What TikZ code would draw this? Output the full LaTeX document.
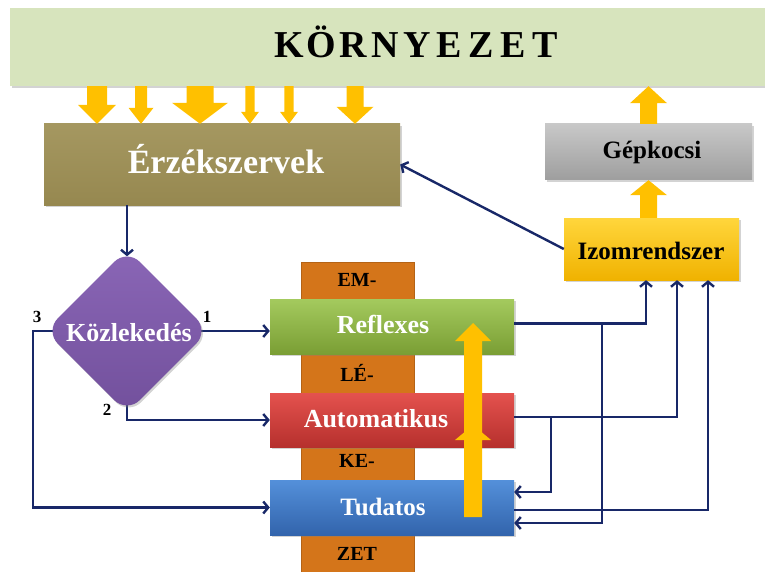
\documentclass[tikz,border=0pt]{standalone}
\usepackage{fontspec}
\setmainfont{Liberation Serif}
\usetikzlibrary{shapes.geometric,arrows.meta,shadows,calc,backgrounds}

\definecolor{envgreen}{RGB}{215,228,189}
\definecolor{olive}{RGB}{160,146,88}
\definecolor{olivedark}{RGB}{150,136,80}
\definecolor{violettop}{RGB}{138,102,182}
\definecolor{violetbot}{RGB}{114,80,156}
\definecolor{stripc}{RGB}{212,117,26}
\definecolor{greentop}{RGB}{164,202,94}
\definecolor{greenbot}{RGB}{122,158,52}
\definecolor{redtop}{RGB}{228,82,78}
\definecolor{redbot}{RGB}{182,48,45}
\definecolor{bluetop}{RGB}{84,144,218}
\definecolor{bluebot}{RGB}{50,100,172}
\definecolor{goldtop}{RGB}{255,214,60}
\definecolor{goldbot}{RGB}{240,178,0}
\definecolor{greytop}{RGB}{200,200,200}
\definecolor{greybot}{RGB}{158,158,158}
\definecolor{amber}{RGB}{255,192,0}
\definecolor{navy}{RGB}{24,40,104}

% fixed-width cell for the spaced-out title letters
\newcommand{\ltr}[1]{\makebox[32pt]{#1}}

% vertical block arrow: #1 start, #2 tip, #3 shaft half width,
% #4 head half width, #5 head length
\newcommand{\fatarrow}[5]{%
  \fill[amber] let \p1=#1, \p2=#2, \p3=($#2!#5!#1$) in
    (\x1-#3,\y1) -- (\x1-#3,\y3) -- (\x1-#4,\y3) -- (\x2,\y2)
    -- (\x1+#4,\y3) -- (\x1+#3,\y3) -- (\x1+#3,\y1) -- cycle;}

\tikzset{
  boxshadow/.style={drop shadow={shadow xshift=1.5pt,shadow yshift=-2pt,opacity=.35}},
  plainbox/.style={rectangle,inner sep=0pt,boxshadow},
  label/.style={inner sep=0pt,anchor=base,font=\bfseries\fontsize{26}{28}\selectfont},
  link/.style={draw=navy,line width=2.4pt,-{Straight Barb[length=5pt,width=12pt]}},
  num/.style={inner sep=0pt,anchor=base,font=\bfseries\fontsize{17}{19}\selectfont}
}

\begin{document}
\begin{tikzpicture}[x=1pt,y=-1pt]
\useasboundingbox (0,0) rectangle (765,572);

% environment band
\node[plainbox,fill=envgreen,minimum width=760pt,minimum height=78pt] (env) at (390,47) {};
\node[label,font=\bfseries\fontsize{38}{40}\selectfont] (title) at (417,58)
  {\ltr{K}\ltr{Ö}\ltr{R}\ltr{N}\ltr{Y}\ltr{E}\ltr{Z}\ltr{E}\ltr{T}};

% sense organs
\node[plainbox,top color=olive!95!white,bottom color=olivedark,minimum width=356pt,minimum height=81pt] (erz) at (222,164.5) {};
\node[label,text=white,font=\bfseries\fontsize{34}{36}\selectfont] (erzT) at (226,174) {Érzékszervek};

% decision diamond
\node[diamond,aspect=1,minimum width=164pt,minimum height=164pt,inner sep=0pt,
      rounded corners=18pt,top color=violettop,bottom color=violetbot,boxshadow] (d) at (127,331) {};
\node[label,text=white] (dT) at (129,341) {Közlekedés};
\node[num] (n3) at (37,322) {3};
\node[num] (n1) at (207,322) {1};
\node[num] (n2) at (107,415) {2};

% the "EM-LÉ-KE-ZET" column
\node[rectangle,inner sep=0pt,fill=stripc,draw=stripc!85!black,line width=.6pt,
      minimum width=113pt,minimum height=318pt] (strip) at (357.5,421) {};
\node[label,font=\bfseries\fontsize{20}{22}\selectfont] (s1) at (357,286) {EM-};
\node[label,font=\bfseries\fontsize{20}{22}\selectfont] (s2) at (357,381) {LÉ-};
\node[label,font=\bfseries\fontsize{20}{22}\selectfont] (s3) at (357,467) {KE-};
\node[label,font=\bfseries\fontsize{20}{22}\selectfont] (s4) at (357,560) {ZET};

% the three control levels
\node[plainbox,top color=greentop,bottom color=greenbot,minimum width=244pt,minimum height=55pt] (refl) at (392,326.5) {};
\node[plainbox,top color=redtop,bottom color=redbot,minimum width=244pt,minimum height=54pt] (auto) at (392,420) {};
\node[plainbox,top color=bluetop,bottom color=bluebot,minimum width=244pt,minimum height=55pt] (tud) at (392,507.5) {};
\node[label,text=white] (reflT) at (383,333) {Reflexes};
\node[label,text=white] (autoT) at (376,427) {Automatikus};
\node[label,text=white,font=\bfseries\fontsize{25}{27}\selectfont] (tudT) at (383,515) {Tudatos};

% muscles and car
\node[plainbox,top color=goldtop,bottom color=goldbot,minimum width=175pt,minimum height=62pt] (izom) at (651.5,249) {};
\node[label,font=\bfseries\fontsize{25}{27}\selectfont] (izomT) at (651,259) {Izomrendszer};
\node[plainbox,top color=greytop,bottom color=greybot,minimum width=207pt,minimum height=56pt] (gep) at (648.5,152) {};
\node[label,font=\bfseries\fontsize{25}{27}\selectfont] (gepT) at (652,159) {Gépkocsi};

% stimuli from the environment
\fatarrow{(97,0 |- env.south)}{(97,0 |- erz.north)}{10pt}{19pt}{19pt}
\fatarrow{(141,0 |- env.south)}{(141,0 |- erz.north)}{6pt}{12.5pt}{16pt}
\fatarrow{(200,0 |- env.south)}{(200,0 |- erz.north)}{13.5pt}{28pt}{21pt}
\fatarrow{(250,0 |- env.south)}{(250,0 |- erz.north)}{4.7pt}{9pt}{12pt}
\fatarrow{(289,0 |- env.south)}{(289,0 |- erz.north)}{4.7pt}{9pt}{12pt}
\fatarrow{(355,0 |- env.south)}{(355,0 |- erz.north)}{8.5pt}{18.5pt}{17pt}

% action on the car and on the environment
\fatarrow{(gep.north)}{(gep.north |- env.south)}{8.5pt}{18.5pt}{17pt}
\fatarrow{(gep.south |- izom.north)}{(gep.south)}{8.5pt}{18.5pt}{15pt}

% learning: conscious -> automatic -> reflex
\coordinate (up2s) at (473,440);
\coordinate (up2e) at (473,323);
\coordinate (up1s) at (473,517);
\coordinate (up1e) at (473,425);
\fatarrow{(up2s)}{(up2e)}{9pt}{18pt}{18pt}
\fatarrow{(up1s)}{(up1e)}{9pt}{18pt}{15pt}

% information flow
\draw[link] (d.north |- erz.south) -- ($(d.north)+(0,7.5)$);
\coordinate (lx) at (33,0);
\begin{scope}[on background layer]
  \draw[link] (d.center) -- (d.center -| refl.west);
  \draw[link] (d.center) -- (d.center |- auto.west) -- (auto.west);
  \draw[link] (d.center) -- (lx |- d.center) -- (lx |- tud.west) -- (tud.west);
\end{scope}

\coordinate (xa) at (646,0);
\coordinate (xb) at (677,0);
\coordinate (xc) at (708,0);
\coordinate (ba) at (602,0);
\coordinate (bb) at (551,0);
\coordinate (rout) at ($(refl.east)+(0,-3)$);
\coordinate (aout) at ($(auto.east)+(0,-3)$);
\coordinate (tout) at ($(tud.east)+(0,2.5)$);
\coordinate (tin1) at ($(tud.east)+(0,-15.5)$);
\coordinate (tin2) at ($(tud.east)+(0,15.5)$);

\draw[link] (rout) -- (rout -| xa) -- (xa |- izom.south);
\draw[link] (rout -| ba) -- (ba |- tin2) -- (tin2);
\draw[link] (aout) -- (aout -| xb) -- (xb |- izom.south);
\draw[link] (aout -| bb) -- (bb |- tin1) -- (tin1);
\draw[link] (tout) -- (tout -| xc) -- (xc |- izom.south);
\draw[link] (izom.west) -- (erz.east);
\end{tikzpicture}
\end{document}
